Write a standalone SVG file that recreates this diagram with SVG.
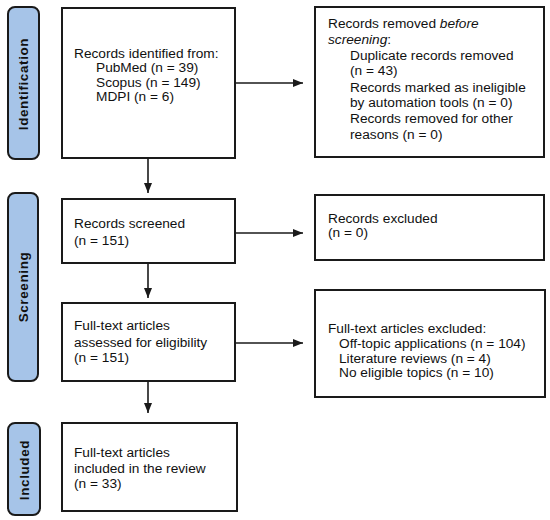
<svg xmlns="http://www.w3.org/2000/svg" width="550" height="520" viewBox="0 0 550 520">
<style>
.box{fill:#fff;stroke:#1a1a1a;stroke-width:2}
.side{fill:#a6c4e8;stroke:#1a1a1a;stroke-width:2}
.t{font-family:"Liberation Sans",Arial,sans-serif;font-size:13.7px;fill:#111}
.s{font-family:"Liberation Sans",Arial,sans-serif;font-size:13.5px;font-weight:bold;letter-spacing:0.6px;fill:#111}
.c{stroke:#1a1a1a;stroke-width:1.6;fill:none}
</style>
<defs>
<marker id="ah" viewBox="0 0 10 8" refX="10" refY="4" markerWidth="10" markerHeight="8" markerUnits="userSpaceOnUse" orient="auto">
<path d="M0,0 L10,4 L0,8 Z" fill="#1a1a1a"/>
</marker>
</defs>
<rect width="550" height="520" fill="#fff"/>
<g id="side-identification">
<rect class="side" x="8" y="7" width="31" height="152" rx="7"/>
<text class="s" transform="translate(23,84) rotate(-90)" text-anchor="middle" dominant-baseline="central">Identification</text>
</g>
<g id="side-screening">
<rect class="side" x="8" y="193" width="30" height="188" rx="7"/>
<text class="s" transform="translate(23,287) rotate(-90)" text-anchor="middle" dominant-baseline="central">Screening</text>
</g>
<g id="side-included">
<rect class="side" x="8" y="423" width="32" height="92" rx="7"/>
<text class="s" transform="translate(24,470) rotate(-90)" text-anchor="middle" dominant-baseline="central">Included</text>
</g>
<g id="identified">
<rect class="box" x="62" y="8" width="173" height="150"/>
<text class="t" x="74" y="58">Records identified from:</text>
<text class="t" x="96" y="72">PubMed (n = 39)</text>
<text class="t" x="96" y="87">Scopus (n = 149)</text>
<text class="t" x="96" y="101">MDPI (n = 6)</text>
</g>
<g id="removed">
<rect class="box" x="315" y="7" width="229" height="150"/>
<text class="t" x="328" y="28">Records removed <tspan font-style="italic">before</tspan></text>
<text class="t" x="328" y="44"><tspan font-style="italic">screening</tspan>:</text>
<text class="t" x="350" y="60">Duplicate records removed</text>
<text class="t" x="350" y="75">(n = 43)</text>
<text class="t" x="350" y="92">Records marked as ineligible</text>
<text class="t" x="350" y="107">by automation tools (n = 0)</text>
<text class="t" x="350" y="123">Records removed for other</text>
<text class="t" x="350" y="139">reasons (n = 0)</text>
</g>
<g id="screened">
<rect class="box" x="62" y="199" width="173" height="64"/>
<text class="t" x="74" y="228">Records screened</text>
<text class="t" x="74" y="245">(n = 151)</text>
</g>
<g id="excluded">
<rect class="box" x="315" y="195" width="229" height="65"/>
<text class="t" x="328" y="223">Records excluded</text>
<text class="t" x="328" y="237">(n = 0)</text>
</g>
<g id="assessed">
<rect class="box" x="62" y="303" width="173" height="78"/>
<text class="t" x="74" y="330">Full-text articles</text>
<text class="t" x="74" y="347">assessed for eligibility</text>
<text class="t" x="74" y="362">(n = 151)</text>
</g>
<g id="ft-excluded">
<rect class="box" x="315" y="290" width="230" height="107"/>
<text class="t" x="328" y="333">Full-text articles excluded:</text>
<text class="t" x="339" y="348">Off-topic applications (n = 104)</text>
<text class="t" x="339" y="363">Literature reviews (n = 4)</text>
<text class="t" x="339" y="377">No eligible topics (n = 10)</text>
</g>
<g id="included">
<rect class="box" x="62" y="423" width="175" height="88"/>
<text class="t" x="74" y="457">Full-text articles</text>
<text class="t" x="74" y="473">included in the review</text>
<text class="t" x="74" y="488">(n = 33)</text>
</g>
<g id="connectors">
<line class="c" x1="235" y1="83" x2="303" y2="83" marker-end="url(#ah)"/>
<line class="c" x1="148" y1="158" x2="148" y2="193" marker-end="url(#ah)"/>
<line class="c" x1="235" y1="233" x2="303" y2="233" marker-end="url(#ah)"/>
<line class="c" x1="148" y1="263" x2="148" y2="298" marker-end="url(#ah)"/>
<line class="c" x1="235" y1="343" x2="303" y2="343" marker-end="url(#ah)"/>
<line class="c" x1="148" y1="381" x2="148" y2="413" marker-end="url(#ah)"/>
</g>
</svg>
